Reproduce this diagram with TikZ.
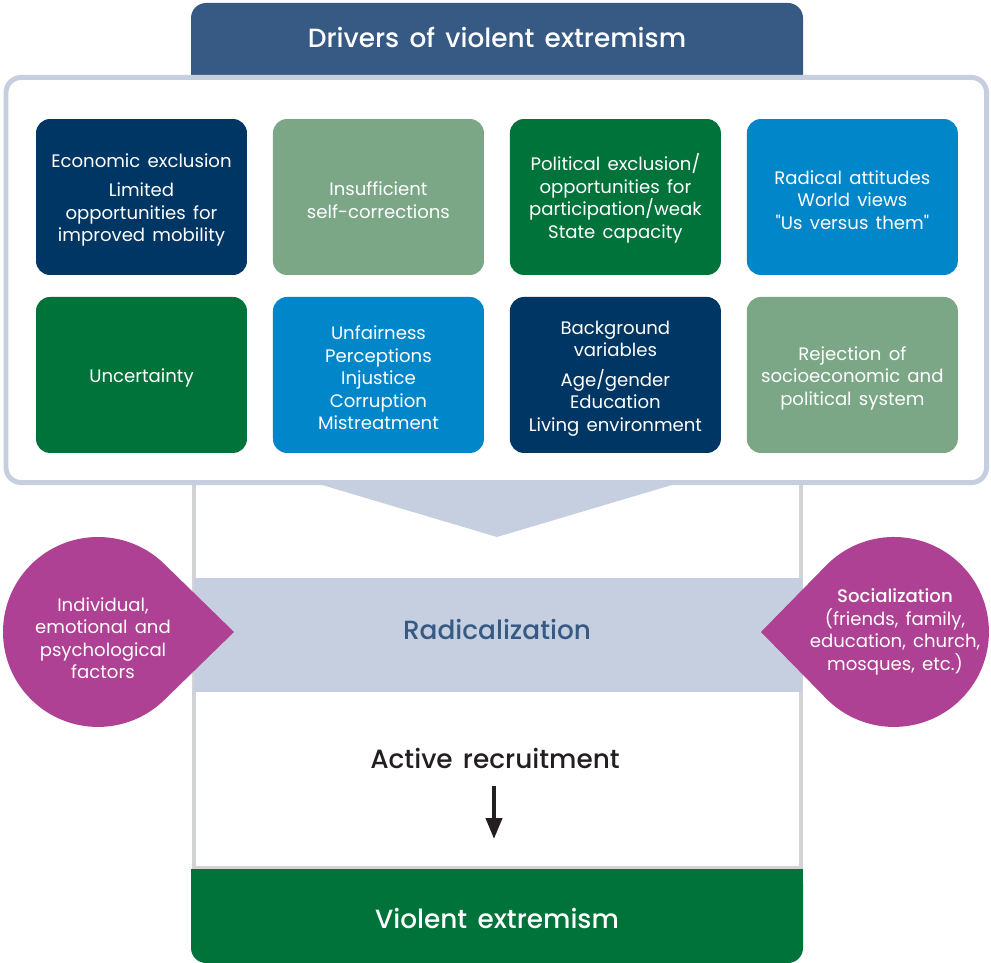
\documentclass[tikz,border=0pt]{standalone}
\usepackage{fontspec}
\setmainfont{Poppins}[WordSpace=1.5]
\newfontfamily\medfont{Poppins Medium}[WordSpace=1.5]
\usepackage{xcolor}
\usetikzlibrary{arrows.meta}

\definecolor{headblue}{RGB}{54,90,132}
\definecolor{navy}{RGB}{0,54,99}
\definecolor{sage}{RGB}{123,167,135}
\definecolor{dgreen}{RGB}{0,115,59}
\definecolor{skyblue}{RGB}{0,134,201}
\definecolor{paleblue}{RGB}{197,207,224}
\definecolor{linegray}{RGB}{209,211,212}
\definecolor{plum}{RGB}{174,65,147}
\definecolor{ink}{RGB}{35,31,32}
\newcommand{\topstrut}{\rule{0pt}{11.4pt}}

\begin{document}
\begin{tikzpicture}[x=0.02cm,y=-0.02cm,node distance=4.74cm,
                driver/.style={rounded corners=0.28cm,minimum width=4.22cm,minimum height=3.12cm,
                  inner sep=0pt,text=white,align=center,font=\fontsize{10.3}{12.8}\selectfont},
                petal text/.style={text=white,align=center,font=\fontsize{10.3}{12.8}\selectfont},
                title/.style={text=white,font=\medfont\fontsize{15}{18}\selectfont},
                arr/.style={-{Triangle[length=0.42cm,width=0.32cm]},line width=0.08cm,draw=ink}]
  \useasboundingbox (0,0) rectangle (991,963);

  \draw[linegray,line width=0.08cm] (194,482) -- (194,868) -- (800.5,868) -- (800.5,482);

  \fill[headblue,rounded corners=0.3cm] (191,3) rectangle (803,110);
  \node[title] (drivers) at (497,37) {Drivers of violent extremism};

  \draw[paleblue,fill=white,line width=0.1cm,rounded corners=0.3cm] (6,77.5) rectangle (986.5,482.5);
  \fill[paleblue] (312,482) -- (682,482) -- (497,537) -- cycle;

  \node[driver,fill=navy] (econ) at (141.5,197) {\topstrut Economic exclusion\\[4pt]Limited\\opportunities for\\improved mobility};
  \node[driver,fill=sage] (selfcor) [right of=econ] {\topstrut Insufficient\\self-corrections};
  \node[driver,fill=dgreen] (polit) [right of=selfcor] {\topstrut Political exclusion/\\opportunities for\\participation/weak\\State capacity};
  \node[driver,fill=skyblue] (attit) [right of=polit] {\topstrut Radical attitudes\\World views\\\textquotedbl Us versus them\textquotedbl};

  \node[driver,fill=dgreen] (uncert) [node distance=3.56cm,below of=econ] {\topstrut Uncertainty};
  \node[driver,fill=skyblue] (unfair) [right of=uncert] {\topstrut Unfairness\\Perceptions\\Injustice\\Corruption\\Mistreatment};
  \node[driver,fill=navy] (backgr) [right of=unfair] {\topstrut Background\\variables\\[4pt]Age/gender\\Education\\Living environment};
  \node[driver,fill=sage] (reject) [right of=backgr] {\topstrut Rejection of\\socioeconomic and\\political system};

  \node[fill=paleblue,minimum width=12.16cm,minimum height=2.28cm] (band) at (498,635) {};
  \node[title,text=headblue] (radical) at (497,629) {Radicalization};

  \fill[plum] (234,632) -- (164.3,564) arc[start angle=45.7,end angle=314.3,radius=1.9cm] -- cycle;
  \fill[plum] (761,632) -- (826.1,565.5) arc[start angle=135.6,end angle=-135.6,radius=1.9cm] -- cycle;
  \node[petal text] (indiv) at (103,638) {Individual,\\emotional and\\psychological\\factors};
  \node[petal text] (social) at (895,632) {{\medfont Socialization}\\(friends, family,\\education, church,\\mosques, etc.)};

  \node[title,text=ink] (recruit) at (495,758) {Active recruitment};
  \coordinate (arrtop) at (494,786);
  \coordinate (arrend) at (494,839);
  \path (arrtop) edge[arr] (arrend);

  \fill[dgreen,rounded corners=0.3cm] (191,869) rectangle (803,963);
  \fill[dgreen] (191,869) rectangle (803,900);
  \node[title] (violent) at (497,918) {Violent extremism};
\end{tikzpicture}
\end{document}
